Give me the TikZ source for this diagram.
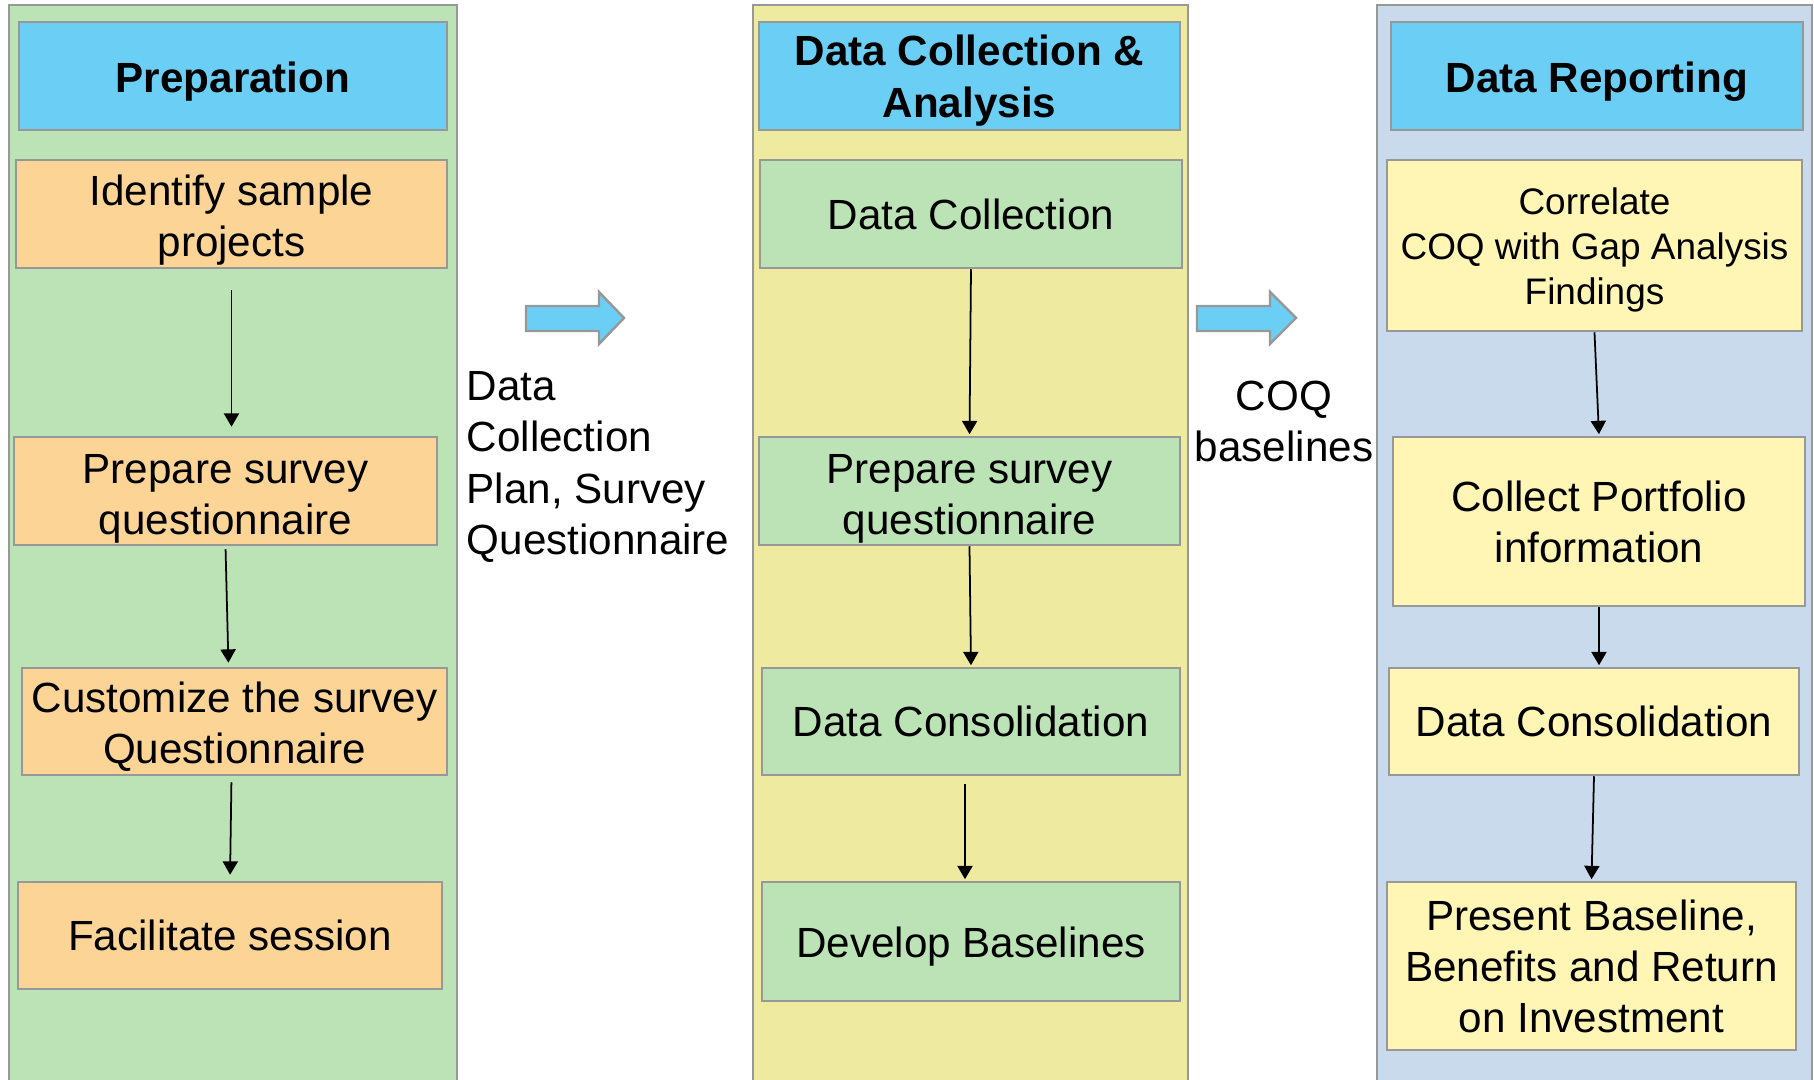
\documentclass[tikz,border=0pt]{standalone}
\usepackage{fontspec}
\setmainfont{Liberation Sans}
\usetikzlibrary{arrows.meta}
\definecolor{lanegreen}{RGB}{187,227,181}
\definecolor{laneyellow}{RGB}{238,235,160}
\definecolor{laneblue}{RGB}{200,218,236}
\definecolor{headblue}{RGB}{107,207,245}
\definecolor{boxorange}{RGB}{252,213,150}
\definecolor{boxgreen}{RGB}{187,227,181}
\definecolor{boxyellow}{RGB}{255,245,180}
\definecolor{edgegray}{RGB}{152,152,152}
\tikzset{>={Triangle[length=3.8pt,width=4.3pt]}}
\tikzset{
  lane/.style={draw=edgegray, line width=0.6pt},
  head/.style={draw=edgegray, fill=headblue, line width=0.7pt, inner sep=0pt, align=center,
    minimum height=1.08cm, text height=12pt, font=\bfseries\fontsize{12}{14.7}\selectfont},
  stepbox/.style={draw=edgegray, line width=0.7pt, inner sep=0pt, align=center,
    font=\fontsize{12}{14.5}\selectfont},
  note/.style={inner sep=0pt, font=\fontsize{12}{14.6}\selectfont},
  blockarrow/.style={draw=edgegray, fill=headblue, line width=0.7pt},
  flow/.style={->, line width=0.5pt, shorten >=0.015cm}
}

\begin{document}
\begin{tikzpicture}[x=0.01cm, y=-0.01cm]
    \useasboundingbox (0,0) rectangle (1814,1080);
    \clip (0,0) rectangle (1814,1080);
    \draw[lane, fill=lanegreen] (9,5) rectangle (457,1100);
    \draw[lane, fill=laneyellow] (753,5) rectangle (1188,1100);
    \draw[lane, fill=laneblue] (1377,5) rectangle (1812,1100);

    \node[head, minimum width=4.28cm] (prepH) at (233,76) {Preparation};
    \node[stepbox, fill=boxorange, minimum width=4.31cm, minimum height=1.08cm, text height=26.6pt] (ident) at (231.5,214) {Identify sample\\projects};
    \node[stepbox, fill=boxorange, minimum width=4.23cm, minimum height=1.08cm, text height=27.1pt] (prepA) at (225.5,491) {Prepare survey\\questionnaire};
    \node[stepbox, fill=boxorange, minimum width=4.25cm, minimum height=1.07cm, text height=25.9pt] (custom) at (234.5,721.5) {Customize the survey\\Questionnaire};
    \node[stepbox, fill=boxorange, minimum width=4.24cm, minimum height=1.07cm] (facil) at (230,935.5) {Facilitate session};

    \node[head, minimum width=4.21cm, text height=26.1pt] (collH) at (969.5,76) {Data Collection \&\\Analysis};
    \node[stepbox, fill=boxgreen, minimum width=4.22cm, minimum height=1.08cm] (dcoll) at (971,214) {Data Collection};
    \node[stepbox, fill=boxgreen, minimum width=4.21cm, minimum height=1.08cm, text height=27.1pt] (prepB) at (969.5,491) {Prepare survey\\questionnaire};
    \node[stepbox, fill=boxgreen, minimum width=4.18cm, minimum height=1.07cm] (consB) at (971,721.5) {Data Consolidation};
    \node[stepbox, fill=boxgreen, minimum width=4.18cm, minimum height=1.19cm, text height=11.4pt] (basel) at (971,941.5) {Develop Baselines};

    \node[head, minimum width=4.12cm] (repH) at (1597,76) {Data Reporting};
    \node[stepbox, fill=boxyellow, font=\fontsize{10.5}{12.8}\selectfont, minimum width=4.15cm, minimum height=1.71cm, text height=35.9pt] (correl) at (1594.5,245.5) {Correlate\\COQ with Gap Analysis\\Findings};
    \node[stepbox, fill=boxyellow, minimum width=4.12cm, minimum height=1.69cm] (portf) at (1599,521.5) {Collect Portfolio\\information};
    \node[stepbox, fill=boxyellow, minimum width=4.10cm, minimum height=1.07cm] (consC) at (1594,721.5) {Data Consolidation};
    \node[stepbox, fill=boxyellow, minimum width=4.09cm, minimum height=1.68cm] (presnt) at (1591.5,966) {Present Baseline,\\Benefits and Return\\on Investment};

    \draw[blockarrow] (526,306) -- (599,306) -- (599,292) -- (624,318) -- (599,344) -- (599,331) -- (526,331) -- cycle;
    \draw[blockarrow] (1197,306) -- (1270,306) -- (1270,292) -- (1296,318) -- (1270,344) -- (1270,331) -- (1197,331) -- cycle;
    \node[note, anchor=west, align=left] (plan) at (466,467) {Data\\Collection\\Plan, Survey\\Questionnaire};
    \node[note, align=center] (coq) at (1284,421.5) {COQ\\baselines};

    \draw[flow, shorten <=0.21cm, shorten >=0.09cm] (ident.south) -- (ident.south |- prepA.north);
    \draw[flow, shorten <=0.03cm, shorten >=0.04cm] (prepA.south) -- ([xshift=-0.06cm]custom.north);
    \draw[flow, shorten <=0.06cm, shorten >=0.06cm] ([xshift=-0.03cm]custom.south) -- (facil.north);
    \draw[flow] (dcoll.south) -- (prepB.north);
    \draw[flow] (prepB.south) -- (consB.north);
    \draw[flow, shorten <=0.08cm] ([xshift=-0.06cm]consB.south) -- ([xshift=-0.06cm]basel.north);
    \draw[flow] (correl.south) -- (portf.north);
    \draw[flow] (portf.south) -- (portf.south |- consC.north);
    \draw[flow] (consC.south) -- (presnt.north);
\end{tikzpicture}
\end{document}
